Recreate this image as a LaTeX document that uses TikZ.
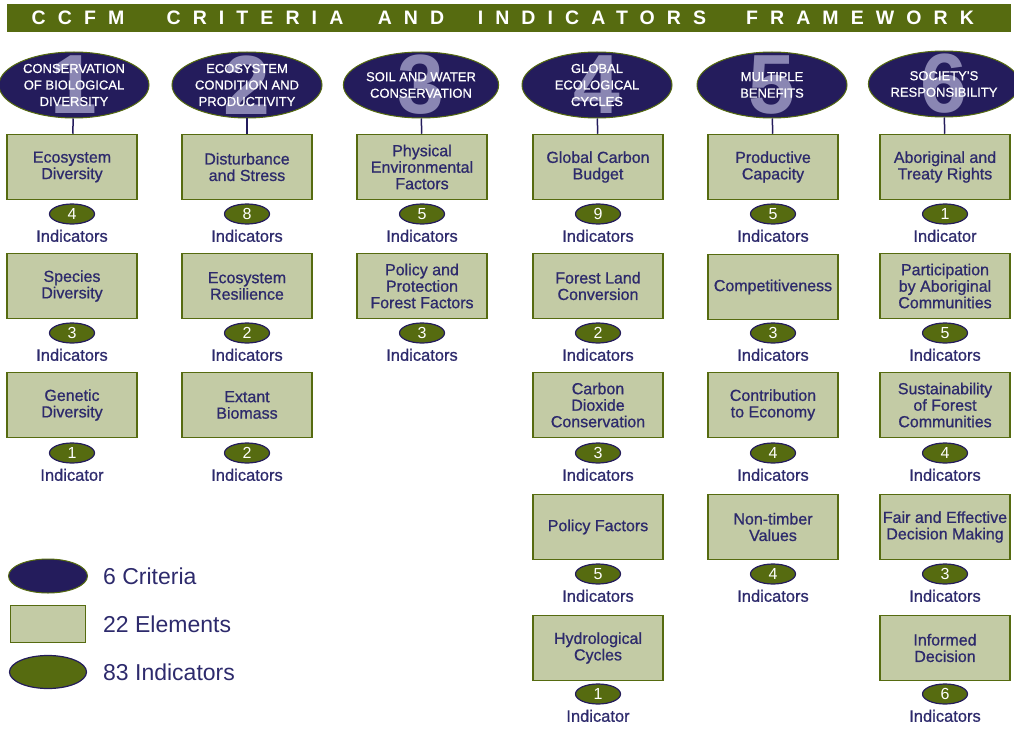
\documentclass[tikz,border=0pt]{standalone}
\usepackage{fontspec}
\setmainfont{Liberation Sans}
\usetikzlibrary{shapes.geometric}
\definecolor{navy}{HTML}{241C5C}
\definecolor{olive}{HTML}{566B10}
\definecolor{sage}{HTML}{C3CBA5}
\definecolor{lilac}{HTML}{8A86B3}
\definecolor{ink}{HTML}{2D2A6C}

\tikzset{
  titleword/.style={text=white, inner sep=0pt,
    font={\fontsize{19.5}{20}\selectfont\bfseries\addfontfeature{LetterSpace=62}}},
  crit/.style={ellipse, fill=navy, draw=olive, line width=1pt,
    minimum width=150pt, minimum height=66pt, inner sep=0pt,
    text=white, align=center, font={\fontsize{13}{16.5}\selectfont\addfontfeature{FakeBold=0.6}},
    path picture={\node[text=lilac, inner sep=0pt, font=\fontsize{84}{84}\selectfont\bfseries]
      at (path picture bounding box.center) {#1};}},
  elem/.style={rectangle, fill=sage, draw=olive, line width=1.5pt,
    minimum width=130pt, minimum height=65pt, inner sep=0pt,
    text=ink, align=center, font={\fontsize{16}{16.5}\selectfont\addfontfeature{FakeBold=0.8}}},
  ind/.style={ellipse, fill=olive, draw=navy, line width=1.2pt,
    minimum width=45pt, minimum height=20pt, inner sep=0pt,
    text=white, font=\fontsize{16}{16}\selectfont},
  indlab/.style={text=ink, inner sep=1pt, font={\fontsize{16.5}{17}\selectfont\addfontfeature{FakeBold=0.8}}},
  link/.style={draw=navy, line width=1.5pt},
  keytext/.style={text=ink, anchor=west, inner sep=0pt, font=\fontsize{23}{24}\selectfont},
}

\begin{document}
\begin{tikzpicture}[x=1pt,y=-1pt]
  \useasboundingbox (0,0) rectangle (1014,730);
  % title bar
  \fill[olive] (7,4) rectangle (1011,32);
  \node[titleword] (t1) at (78,18) {CCFM};
  \node[titleword] (t2) at (255,18) {CRITERIA};
  \node[titleword] (t3) at (411,18) {AND};
  \node[titleword] (t4) at (592,18) {INDICATORS};
  \node[titleword] (t5) at (860,18) {FRAMEWORK};

  % criteria
  \node[crit=1] (c1) at (74,85) {CONSERVATION\\OF BIOLOGICAL\\DIVERSITY};
  \node[crit=2] (c2) at (247,85) {ECOSYSTEM\\CONDITION AND\\PRODUCTIVITY};
  \node[crit=3] (c3) at (421,85) {SOIL AND WATER\\CONSERVATION};
  \node[crit=4] (c4) at (597,85) {GLOBAL\\ECOLOGICAL\\CYCLES};
  \node[crit=5] (c5) at (772,85) {MULTIPLE\\BENEFITS};
  \node[crit=6] (c6) at (944,84) {SOCIETY'S\\RESPONSIBILITY};

  % column 1
  \node[elem] (e11) at (72,167) {Ecosystem\\Diversity};
  \node[ind, label={[indlab, label distance=4pt]below:Indicators}] (n11) at (72,214) {4};
  \node[elem] (e12) at (72,286) {Species\\Diversity};
  \node[ind, label={[indlab, label distance=4pt]below:Indicators}] (n12) at (72,333) {3};
  \node[elem] (e13) at (72,405) {Genetic\\Diversity};
  \node[ind, label={[indlab, label distance=4pt]below:Indicator}] (n13) at (72,453) {1};

  % column 2
  \node[elem] (e21) at (247,167) {Disturbance\\and Stress};
  \node[ind, label={[indlab, label distance=4pt]below:Indicators}] (n21) at (247,214) {8};
  \node[elem] (e22) at (247,286) {Ecosystem\\Resilience};
  \node[ind, label={[indlab, label distance=4pt]below:Indicators}] (n22) at (247,333) {2};
  \node[elem] (e23) at (247,405) {Extant\\Biomass};
  \node[ind, label={[indlab, label distance=4pt]below:Indicators}] (n23) at (247,453) {2};

  % column 3
  \node[elem] (e31) at (422,167) {Physical\\Environmental\\Factors};
  \node[ind, label={[indlab, label distance=4pt]below:Indicators}] (n31) at (422,214) {5};
  \node[elem] (e32) at (422,286) {Policy and\\Protection\\Forest Factors};
  \node[ind, label={[indlab, label distance=4pt]below:Indicators}] (n32) at (422,333) {3};

  % column 4
  \node[elem] (e41) at (598,167) {Global Carbon\\Budget};
  \node[ind, label={[indlab, label distance=4pt]below:Indicators}] (n41) at (598,214) {9};
  \node[elem] (e42) at (598,286) {Forest Land\\Conversion};
  \node[ind, label={[indlab, label distance=4pt]below:Indicators}] (n42) at (598,333) {2};
  \node[elem] (e43) at (598,405) {Carbon\\Dioxide\\Conservation};
  \node[ind, label={[indlab, label distance=4pt]below:Indicators}] (n43) at (598,453) {3};
  \node[elem] (e44) at (598,527) {Policy Factors};
  \node[ind, label={[indlab, label distance=4pt]below:Indicators}] (n44) at (598,574) {5};
  \node[elem] (e45) at (598,648) {Hydrological\\Cycles};
  \node[ind, label={[indlab, label distance=4pt]below:Indicator}] (n45) at (598,694) {1};

  % column 5
  \node[elem] (e51) at (773,167) {Productive\\Capacity};
  \node[ind, label={[indlab, label distance=4pt]below:Indicators}] (n51) at (773,214) {5};
  \node[elem] (e52) at (773,287) {Competitiveness};
  \node[ind, label={[indlab, label distance=4pt]below:Indicators}] (n52) at (773,333) {3};
  \node[elem] (e53) at (773,405) {Contribution\\to Economy};
  \node[ind, label={[indlab, label distance=4pt]below:Indicators}] (n53) at (773,453) {4};
  \node[elem] (e54) at (773,527) {Non-timber\\Values};
  \node[ind, label={[indlab, label distance=4pt]below:Indicators}] (n54) at (773,574) {4};

  % column 6
  \node[elem] (e61) at (945,167) {Aboriginal and\\Treaty Rights};
  \node[ind, label={[indlab, label distance=4pt]below:Indicator}] (n61) at (945,214) {1};
  \node[elem] (e62) at (945,286) {Participation\\by Aboriginal\\Communities};
  \node[ind, label={[indlab, label distance=4pt]below:Indicators}] (n62) at (945,333) {5};
  \node[elem] (e63) at (945,405) {Sustainability\\of Forest\\Communities};
  \node[ind, label={[indlab, label distance=4pt]below:Indicators}] (n63) at (945,453) {4};
  \node[elem] (e64) at (945,527) {Fair and Effective\\Decision Making};
  \node[ind, label={[indlab, label distance=4pt]below:Indicators}] (n64) at (945,574) {3};
  \node[elem] (e65) at (945,648) {Informed\\Decision};
  \node[ind, label={[indlab, label distance=4pt]below:Indicators}] (n65) at (945,694) {6};

  % stems
  \draw[link] (c1) -- (e11);
  \draw[link] (c2) -- (e21);
  \draw[link] (c3) -- (e31);
  \draw[link] (c4) -- (e41);
  \draw[link] (c5) -- (e51);
  \draw[link] (c6) -- (e61);

  % key
  \node[ellipse, fill=navy, draw=olive, line width=1pt, minimum width=79pt, minimum height=34pt] (k1) at (48,576) {};
  \node[rectangle, fill=sage, draw=olive, line width=1.5pt, minimum width=75pt, minimum height=37pt] (k2) at (48,624) {};
  \node[ellipse, fill=olive, draw=navy, line width=1.2pt, minimum width=77pt, minimum height=33pt] (k3) at (48,672) {};
  \node[keytext] (l1) at (103,576) {6 Criteria};
  \node[keytext] (l2) at (103,624) {22 Elements};
  \node[keytext] (l3) at (103,672) {83 Indicators};
\end{tikzpicture}
\end{document}
